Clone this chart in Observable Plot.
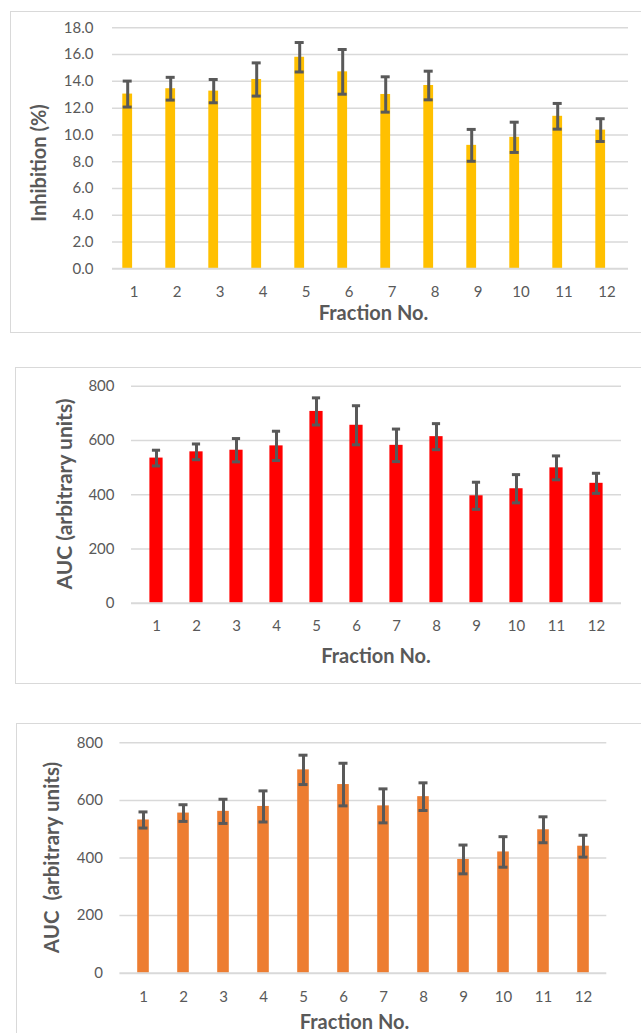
<!DOCTYPE html>
<html><head><meta charset="utf-8">
<script src="https://cdn.jsdelivr.net/npm/d3@7"></script>
<script src="https://cdn.jsdelivr.net/npm/@observablehq/plot@0.6"></script>
<style>
body{margin:0;background:#fff;}
#wrap{position:relative;width:641px;height:1033px;overflow:hidden;background:#fff;font-family:Lato,sans-serif;}
.box{position:absolute;border:1.5px solid #d9d9d9;box-sizing:border-box;}
.panel{position:absolute;left:0;}
</style></head><body><div id="wrap"></div>
<script>
const fractions = ["1","2","3","4","5","6","7","8","9","10","11","12"];
const inhibition = [13.05, 13.45, 13.27, 14.14, 15.8, 14.71, 13.02, 13.69, 9.22, 9.82, 11.39, 10.36];
const inhibitionErr = [0.97, 0.85, 0.87, 1.24, 1.1, 1.67, 1.32, 1.07, 1.19, 1.13, 0.96, 0.85];
const aucRed = [535, 558, 564, 580, 707, 656, 582, 614, 396, 422, 499, 442];
const aucRedErr = [29, 29, 43, 54, 50, 72, 60, 48, 50, 52, 44, 37];
const aucOrange = [532, 556, 562, 579, 706, 655, 581, 613, 395, 421, 498, 441];
const aucOrangeErr = [28, 29, 42, 54, 51, 74, 59, 48, 50, 53, 45, 38];
const inhibitionTicks = [0, 2, 4, 6, 8, 10, 12, 14, 16, 18];
const aucTicks = [0, 200, 400, 600, 800];

const wrap = document.getElementById("wrap");

function panel(cfg) {
  const box = document.createElement("div");
  box.className = "box";
  Object.assign(box.style, cfg.box);
  wrap.appendChild(box);

  const data = fractions.map((f, i) => ({f, v: cfg.values[i], lo: cfg.values[i] - cfg.errs[i], hi: cfg.values[i] + cfg.errs[i]}));
  const dx = cfg.dx || 0;
  const svg = Plot.plot({
    width: 641,
    height: cfg.height,
    marginTop: cfg.mt, marginBottom: cfg.mb, marginLeft: cfg.ml, marginRight: cfg.mr,
    style: {fontFamily: "Lato, sans-serif", fontSize: "15px", color: "#595959", background: "transparent", overflow: "visible"},
    x: {type: "band", domain: fractions, padding: 0, label: null, tickSize: 0, tickPadding: cfg.xpad},
    y: {domain: [0, cfg.ticks[cfg.ticks.length - 1]], ticks: cfg.ticks, tickFormat: cfg.fmt, label: null, tickSize: 0, tickPadding: cfg.ypad},
    marks: [
      Plot.ruleY(cfg.ticks.slice(1), {stroke: "#d9d9d9", strokeWidth: 1.5}),
      Plot.barY(data, {x: "f", y: "v", fill: cfg.color, insetLeft: cfg.barInset, insetRight: cfg.barInset, dx}),
      Plot.ruleY([0], {stroke: "#d9d9d9", strokeWidth: 2}),
      Plot.ruleX(data, {x: "f", y1: "lo", y2: "hi", stroke: "#595959", strokeWidth: 3, dx}),
      Plot.tickY(data, {x: "f", y: "lo", stroke: "#595959", strokeWidth: 3, insetLeft: cfg.capInset, insetRight: cfg.capInset, dx}),
      Plot.tickY(data, {x: "f", y: "hi", stroke: "#595959", strokeWidth: 3, insetLeft: cfg.capInset, insetRight: cfg.capInset, dx})
    ]
  });
  svg.classList.add("panel");
  svg.style.top = cfg.top + "px";
  const s = d3.select(svg);
  s.append("text")
    .attr("transform", `translate(${cfg.yt[0]},${cfg.yt[1]}) rotate(-90)`)
    .attr("text-anchor", "middle").attr("dominant-baseline", "central")
    .attr("font-weight", "bold").attr("font-size", cfg.yfs || 20).attr("fill", "#595959")
    .attr("xml:space", "preserve").style("white-space", "pre")
    .text(cfg.ytitle);
  s.append("text")
    .attr("x", cfg.xt[0]).attr("y", cfg.xt[1])
    .attr("text-anchor", "middle").attr("dominant-baseline", "central")
    .attr("font-weight", "bold").attr("font-size", 20).attr("fill", "#595959")
    .text("Fraction No.");
  wrap.appendChild(svg);
}

panel({
  box: {left: "10px", top: "11px", width: "700px", height: "322px"},
  top: 0, height: 340, mt: 27.3, mb: 71.7, ml: 112, mr: 13,
  values: inhibition, errs: inhibitionErr, ticks: inhibitionTicks, fmt: d3.format(".1f"),
  color: "#FFC000", barInset: 16.6, capInset: 17, dx: -6.3, xpad: 18, ypad: 19,
  ytitle: "Inhibition (%)", yt: [38, 163], xt: [373.5, 312]
});
panel({
  box: {left: "15px", top: "367px", width: "700px", height: "317px"},
  top: 355, height: 330, mt: 30.7, mb: 82.3, ml: 131, mr: 20,
  values: aucRed, errs: aucRedErr, ticks: aucTicks, fmt: d3.format("d"),
  color: "#FF0000", barInset: 13.4, capInset: 15.9, dx: 0, xpad: 17, ypad: 17, yfs: 21,
  ytitle: "AUC (arbitrary units)", yt: [63, 139], xt: [376, 300]
});
panel({
  box: {left: "15.5px", top: "723px", width: "700px", height: "400px"},
  top: 690, height: 343, mt: 52.3, mb: 60.3, ml: 119.4, mr: 34.7,
  values: aucOrange, errs: aucOrangeErr, ticks: aucTicks, fmt: d3.format("d"),
  color: "#ED7D31", barInset: 14.2, capInset: 15.5, dx: 0, xpad: 18, ypad: 17, yfs: 20.5,
  ytitle: "AUC  (arbitrary units)", yt: [51, 167.5], xt: [354.5, 331]
});
</script>
</body></html>
